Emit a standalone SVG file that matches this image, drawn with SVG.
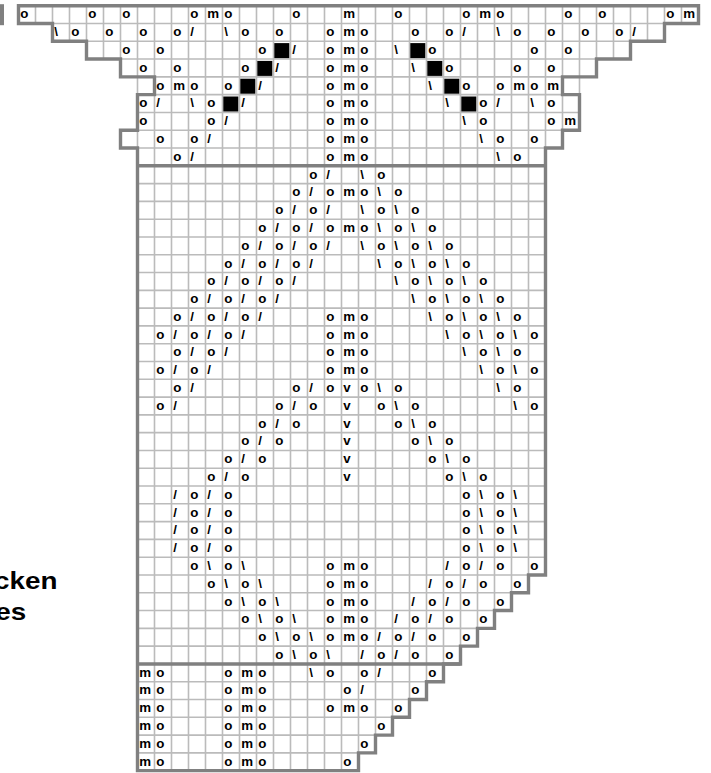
<svg xmlns="http://www.w3.org/2000/svg" width="711" height="773" viewBox="0 0 711 773">
<style>
text{font-family:"Liberation Sans",Arial,sans-serif;font-weight:700;font-size:13.3px;fill:#000}
.lab{font-size:24px}
.grid{fill:none;stroke:#bbb;stroke-width:1.6}
.edge{fill:none;stroke:#808080;stroke-width:3.4}
</style>
<rect width="711" height="773" fill="#fff"/>
<rect x="0" y="4.2" width="4" height="21" fill="#808080"/>
<path class="grid" d="M52.5 23.49H664.5M86.5 41.28H630.5M120.5 59.07H596.5M154.5 76.86H562.5M154.5 94.65H562.5M137.5 112.44H579.5M137.5 130.23H562.5M137.5 148.02H545.5M137.5 183.6H545.5M137.5 201.39H545.5M137.5 219.18H545.5M137.5 236.97H545.5M137.5 254.76H545.5M137.5 272.55H545.5M137.5 290.34H545.5M137.5 308.13H545.5M137.5 325.92H545.5M137.5 343.71H545.5M137.5 361.5H545.5M137.5 379.29H545.5M137.5 397.08H545.5M137.5 414.87H545.5M137.5 432.66H545.5M137.5 450.45H545.5M137.5 468.24H545.5M137.5 486.03H545.5M137.5 503.82H545.5M137.5 521.61H545.5M137.5 539.4H545.5M137.5 557.19H545.5M137.5 574.98H528.5M137.5 592.77H511.5M137.5 610.56H494.5M137.5 628.35H477.5M137.5 646.14H460.5M137.5 681.72H426.5M137.5 699.51H409.5M137.5 717.3H392.5M137.5 735.09H375.5M137.5 752.88H358.5
M35.5 5.7V23.49M52.5 5.7V23.49M69.5 5.7V41.28M86.5 5.7V41.28M103.5 5.7V59.07M120.5 5.7V59.07M137.5 5.7V94.65M137.5 130.23V148.02
M154.5 5.7V770.67M171.5 5.7V770.67M188.5 5.7V770.67M205.5 5.7V770.67M222.5 5.7V770.67M239.5 5.7V770.67M256.5 5.7V770.67M273.5 5.7V770.67M290.5 5.7V770.67M307.5 5.7V770.67M324.5 5.7V770.67M341.5 5.7V770.67
M358.5 5.7V752.88M375.5 5.7V735.09M392.5 5.7V717.3M409.5 5.7V699.51M426.5 5.7V681.72M443.5 5.7V663.93M460.5 5.7V646.14M477.5 5.7V628.35M494.5 5.7V610.56M511.5 5.7V592.77M528.5 5.7V574.98M545.5 5.7V148.02
M562.5 5.7V76.86M562.5 94.65V130.23M579.5 5.7V94.65M596.5 5.7V59.07M613.5 5.7V59.07M630.5 5.7V41.28M647.5 5.7V41.28M664.5 5.7V23.49M681.5 5.7V23.49"/>
<g id="stitches-black">
<rect x="274.3" y="43.1" width="15" height="15"/><rect x="410.3" y="43.1" width="15" height="15"/>
<rect x="257.3" y="60.9" width="15" height="15"/><rect x="427.3" y="60.9" width="15" height="15"/>
<rect x="240.3" y="78.7" width="15" height="15"/><rect x="444.3" y="78.7" width="15" height="15"/>
<rect x="223.3" y="96.5" width="15" height="15"/><rect x="461.3" y="96.5" width="15" height="15"/>
</g>
<path class="edge" stroke-linejoin="miter" d="M18.5 5.7H698.5V23.49H664.5V41.28H630.5V59.07H596.5V76.86H562.5V94.65H579.5V130.23H562.5V148.02H545.5V574.98H528.5V592.77H511.5V610.56H494.5V628.35H477.5V646.14H460.5V663.93H443.5V681.72H426.5V699.51H409.5V717.3H392.5V735.09H375.5V752.88H358.5V770.67H137.5V148.02H120.5V130.23H137.5V94.65H154.5V76.86H120.5V59.07H86.5V41.28H52.5V23.49H18.5Z"/>
<path class="edge" d="M137.5 165.81H545.5M137.5 663.93H460.5"/>
<g id="stitches" transform="translate(-0.7,0.2)">
<g id="r0" transform="translate(0,18.2)"><text x="21">o</text><text x="89">o</text><text x="123">o</text><text x="191">o</text><text x="208">m</text><text x="225">o</text><text x="293">o</text><text x="344">m</text><text x="395">o</text><text x="463">o</text><text x="480">m</text><text x="497">o</text><text x="565">o</text><text x="599">o</text><text x="667">o</text><text x="684">m</text></g>
<g id="r1" transform="translate(0,36)"><text x="55">\</text><text x="72">o</text><text x="106">o</text><text x="140">o</text><text x="174">o</text><text x="191">/</text><text x="225">\</text><text x="242">o</text><text x="276">o</text><text x="327">o</text><text x="344">m</text><text x="361">o</text><text x="412">o</text><text x="446">o</text><text x="463">/</text><text x="497">\</text><text x="514">o</text><text x="548">o</text><text x="582">o</text><text x="616">o</text><text x="633">/</text></g>
<g id="r2" transform="translate(0,53.8)"><text x="123">o</text><text x="157">o</text><text x="259">o</text><text x="293">/</text><text x="327">o</text><text x="344">m</text><text x="361">o</text><text x="395">\</text><text x="429">o</text><text x="531">o</text><text x="565">o</text></g>
<g id="r3" transform="translate(0,71.6)"><text x="140">o</text><text x="174">o</text><text x="242">o</text><text x="276">/</text><text x="327">o</text><text x="344">m</text><text x="361">o</text><text x="412">\</text><text x="446">o</text><text x="514">o</text><text x="548">o</text></g>
<g id="r4" transform="translate(0,89.4)"><text x="157">o</text><text x="174">m</text><text x="191">o</text><text x="225">o</text><text x="259">/</text><text x="327">o</text><text x="344">m</text><text x="361">o</text><text x="429">\</text><text x="463">o</text><text x="497">o</text><text x="514">m</text><text x="531">o</text><text x="548">m</text></g>
<g id="r5" transform="translate(0,107.2)"><text x="140">o</text><text x="157">/</text><text x="191">\</text><text x="208">o</text><text x="242">/</text><text x="327">o</text><text x="344">m</text><text x="361">o</text><text x="446">\</text><text x="480">o</text><text x="497">/</text><text x="531">\</text><text x="548">o</text></g>
<g id="r6" transform="translate(0,124.9)"><text x="140">o</text><text x="208">o</text><text x="225">/</text><text x="327">o</text><text x="344">m</text><text x="361">o</text><text x="463">\</text><text x="480">o</text><text x="548">o</text><text x="565">m</text></g>
<g id="r7" transform="translate(0,142.7)"><text x="157">o</text><text x="191">o</text><text x="208">/</text><text x="327">o</text><text x="344">m</text><text x="361">o</text><text x="480">\</text><text x="497">o</text><text x="531">o</text></g>
<g id="r8" transform="translate(0,160.5)"><text x="174">o</text><text x="191">/</text><text x="327">o</text><text x="344">m</text><text x="361">o</text><text x="497">\</text><text x="514">o</text></g>
<g id="r9" transform="translate(0,178.3)"><text x="310">o</text><text x="327">/</text><text x="361">\</text><text x="378">o</text></g>
<g id="r10" transform="translate(0,196.1)"><text x="293">o</text><text x="310">/</text><text x="327">o</text><text x="344">m</text><text x="361">o</text><text x="378">\</text><text x="395">o</text></g>
<g id="r11" transform="translate(0,213.9)"><text x="276">o</text><text x="293">/</text><text x="310">o</text><text x="327">/</text><text x="361">\</text><text x="378">o</text><text x="395">\</text><text x="412">o</text></g>
<g id="r12" transform="translate(0,231.7)"><text x="259">o</text><text x="276">/</text><text x="293">o</text><text x="310">/</text><text x="327">o</text><text x="344">m</text><text x="361">o</text><text x="378">\</text><text x="395">o</text><text x="412">\</text><text x="429">o</text></g>
<g id="r13" transform="translate(0,249.5)"><text x="242">o</text><text x="259">/</text><text x="276">o</text><text x="293">/</text><text x="310">o</text><text x="327">/</text><text x="361">\</text><text x="378">o</text><text x="395">\</text><text x="412">o</text><text x="429">\</text><text x="446">o</text></g>
<g id="r14" transform="translate(0,267.3)"><text x="225">o</text><text x="242">/</text><text x="259">o</text><text x="276">/</text><text x="293">o</text><text x="310">/</text><text x="378">\</text><text x="395">o</text><text x="412">\</text><text x="429">o</text><text x="446">\</text><text x="463">o</text></g>
<g id="r15" transform="translate(0,285)"><text x="208">o</text><text x="225">/</text><text x="242">o</text><text x="259">/</text><text x="276">o</text><text x="293">/</text><text x="395">\</text><text x="412">o</text><text x="429">\</text><text x="446">o</text><text x="463">\</text><text x="480">o</text></g>
<g id="r16" transform="translate(0,302.8)"><text x="191">o</text><text x="208">/</text><text x="225">o</text><text x="242">/</text><text x="259">o</text><text x="276">/</text><text x="412">\</text><text x="429">o</text><text x="446">\</text><text x="463">o</text><text x="480">\</text><text x="497">o</text></g>
<g id="r17" transform="translate(0,320.6)"><text x="174">o</text><text x="191">/</text><text x="208">o</text><text x="225">/</text><text x="242">o</text><text x="259">/</text><text x="327">o</text><text x="344">m</text><text x="361">o</text><text x="429">\</text><text x="446">o</text><text x="463">\</text><text x="480">o</text><text x="497">\</text><text x="514">o</text></g>
<g id="r18" transform="translate(0,338.4)"><text x="157">o</text><text x="174">/</text><text x="191">o</text><text x="208">/</text><text x="225">o</text><text x="242">/</text><text x="327">o</text><text x="344">m</text><text x="361">o</text><text x="446">\</text><text x="463">o</text><text x="480">\</text><text x="497">o</text><text x="514">\</text><text x="531">o</text></g>
<g id="r19" transform="translate(0,356.2)"><text x="174">o</text><text x="191">/</text><text x="208">o</text><text x="225">/</text><text x="327">o</text><text x="344">m</text><text x="361">o</text><text x="463">\</text><text x="480">o</text><text x="497">\</text><text x="514">o</text></g>
<g id="r20" transform="translate(0,374)"><text x="157">o</text><text x="174">/</text><text x="191">o</text><text x="208">/</text><text x="327">o</text><text x="344">m</text><text x="361">o</text><text x="480">\</text><text x="497">o</text><text x="514">\</text><text x="531">o</text></g>
<g id="r21" transform="translate(0,391.8)"><text x="174">o</text><text x="191">/</text><text x="293">o</text><text x="310">/</text><text x="327">o</text><text x="344">v</text><text x="361">o</text><text x="378">\</text><text x="395">o</text><text x="497">\</text><text x="514">o</text></g>
<g id="r22" transform="translate(0,409.6)"><text x="157">o</text><text x="174">/</text><text x="276">o</text><text x="293">/</text><text x="310">o</text><text x="344">v</text><text x="378">o</text><text x="395">\</text><text x="412">o</text><text x="514">\</text><text x="531">o</text></g>
<g id="r23" transform="translate(0,427.4)"><text x="259">o</text><text x="276">/</text><text x="293">o</text><text x="344">v</text><text x="395">o</text><text x="412">\</text><text x="429">o</text></g>
<g id="r24" transform="translate(0,445.2)"><text x="242">o</text><text x="259">/</text><text x="276">o</text><text x="344">v</text><text x="412">o</text><text x="429">\</text><text x="446">o</text></g>
<g id="r25" transform="translate(0,463)"><text x="225">o</text><text x="242">/</text><text x="259">o</text><text x="344">v</text><text x="429">o</text><text x="446">\</text><text x="463">o</text></g>
<g id="r26" transform="translate(0,480.7)"><text x="208">o</text><text x="225">/</text><text x="242">o</text><text x="344">v</text><text x="446">o</text><text x="463">\</text><text x="480">o</text></g>
<g id="r27" transform="translate(0,498.5)"><text x="174">/</text><text x="191">o</text><text x="208">/</text><text x="225">o</text><text x="463">o</text><text x="480">\</text><text x="497">o</text><text x="514">\</text></g>
<g id="r28" transform="translate(0,516.3)"><text x="174">/</text><text x="191">o</text><text x="208">/</text><text x="225">o</text><text x="463">o</text><text x="480">\</text><text x="497">o</text><text x="514">\</text></g>
<g id="r29" transform="translate(0,534.1)"><text x="174">/</text><text x="191">o</text><text x="208">/</text><text x="225">o</text><text x="463">o</text><text x="480">\</text><text x="497">o</text><text x="514">\</text></g>
<g id="r30" transform="translate(0,551.9)"><text x="174">/</text><text x="191">o</text><text x="208">/</text><text x="225">o</text><text x="463">o</text><text x="480">\</text><text x="497">o</text><text x="514">\</text></g>
<g id="r31" transform="translate(0,569.7)"><text x="191">o</text><text x="208">\</text><text x="225">o</text><text x="242">\</text><text x="327">o</text><text x="344">m</text><text x="361">o</text><text x="446">/</text><text x="463">o</text><text x="480">/</text><text x="497">o</text><text x="531">o</text></g>
<g id="r32" transform="translate(0,587.5)"><text x="208">o</text><text x="225">\</text><text x="242">o</text><text x="259">\</text><text x="327">o</text><text x="344">m</text><text x="361">o</text><text x="429">/</text><text x="446">o</text><text x="463">/</text><text x="480">o</text><text x="514">o</text></g>
<g id="r33" transform="translate(0,605.3)"><text x="225">o</text><text x="242">\</text><text x="259">o</text><text x="276">\</text><text x="327">o</text><text x="344">m</text><text x="361">o</text><text x="412">/</text><text x="429">o</text><text x="446">/</text><text x="463">o</text><text x="497">o</text></g>
<g id="r34" transform="translate(0,623.1)"><text x="242">o</text><text x="259">\</text><text x="276">o</text><text x="293">\</text><text x="327">o</text><text x="344">m</text><text x="361">o</text><text x="395">/</text><text x="412">o</text><text x="429">/</text><text x="446">o</text><text x="480">o</text></g>
<g id="r35" transform="translate(0,640.9)"><text x="259">o</text><text x="276">\</text><text x="293">o</text><text x="310">\</text><text x="327">o</text><text x="344">m</text><text x="361">o</text><text x="378">/</text><text x="395">o</text><text x="412">/</text><text x="429">o</text><text x="463">o</text></g>
<g id="r36" transform="translate(0,658.6)"><text x="276">o</text><text x="293">\</text><text x="310">o</text><text x="327">\</text><text x="361">/</text><text x="378">o</text><text x="395">/</text><text x="412">o</text><text x="446">o</text></g>
<g id="r37" transform="translate(0,676.4)"><text x="140">m</text><text x="157">o</text><text x="225">o</text><text x="242">m</text><text x="259">o</text><text x="310">\</text><text x="327">o</text><text x="361">o</text><text x="378">/</text><text x="429">o</text></g>
<g id="r38" transform="translate(0,694.2)"><text x="140">m</text><text x="157">o</text><text x="225">o</text><text x="242">m</text><text x="259">o</text><text x="344">o</text><text x="361">/</text><text x="412">o</text></g>
<g id="r39" transform="translate(0,712)"><text x="140">m</text><text x="157">o</text><text x="225">o</text><text x="242">m</text><text x="259">o</text><text x="327">o</text><text x="344">m</text><text x="361">o</text><text x="395">o</text></g>
<g id="r40" transform="translate(0,729.8)"><text x="140">m</text><text x="157">o</text><text x="225">o</text><text x="242">m</text><text x="259">o</text><text x="378">o</text></g>
<g id="r41" transform="translate(0,747.6)"><text x="140">m</text><text x="157">o</text><text x="225">o</text><text x="242">m</text><text x="259">o</text><text x="361">o</text></g>
<g id="r42" transform="translate(0,765.4)"><text x="140">m</text><text x="157">o</text><text x="225">o</text><text x="242">m</text><text x="259">o</text><text x="344">o</text></g>
</g>
<text class="lab" transform="translate(-6,588.5) scale(1.16,1)">cken</text>
<text class="lab" transform="translate(-4.8,619.5) scale(1.16,1)">es</text>
</svg>
